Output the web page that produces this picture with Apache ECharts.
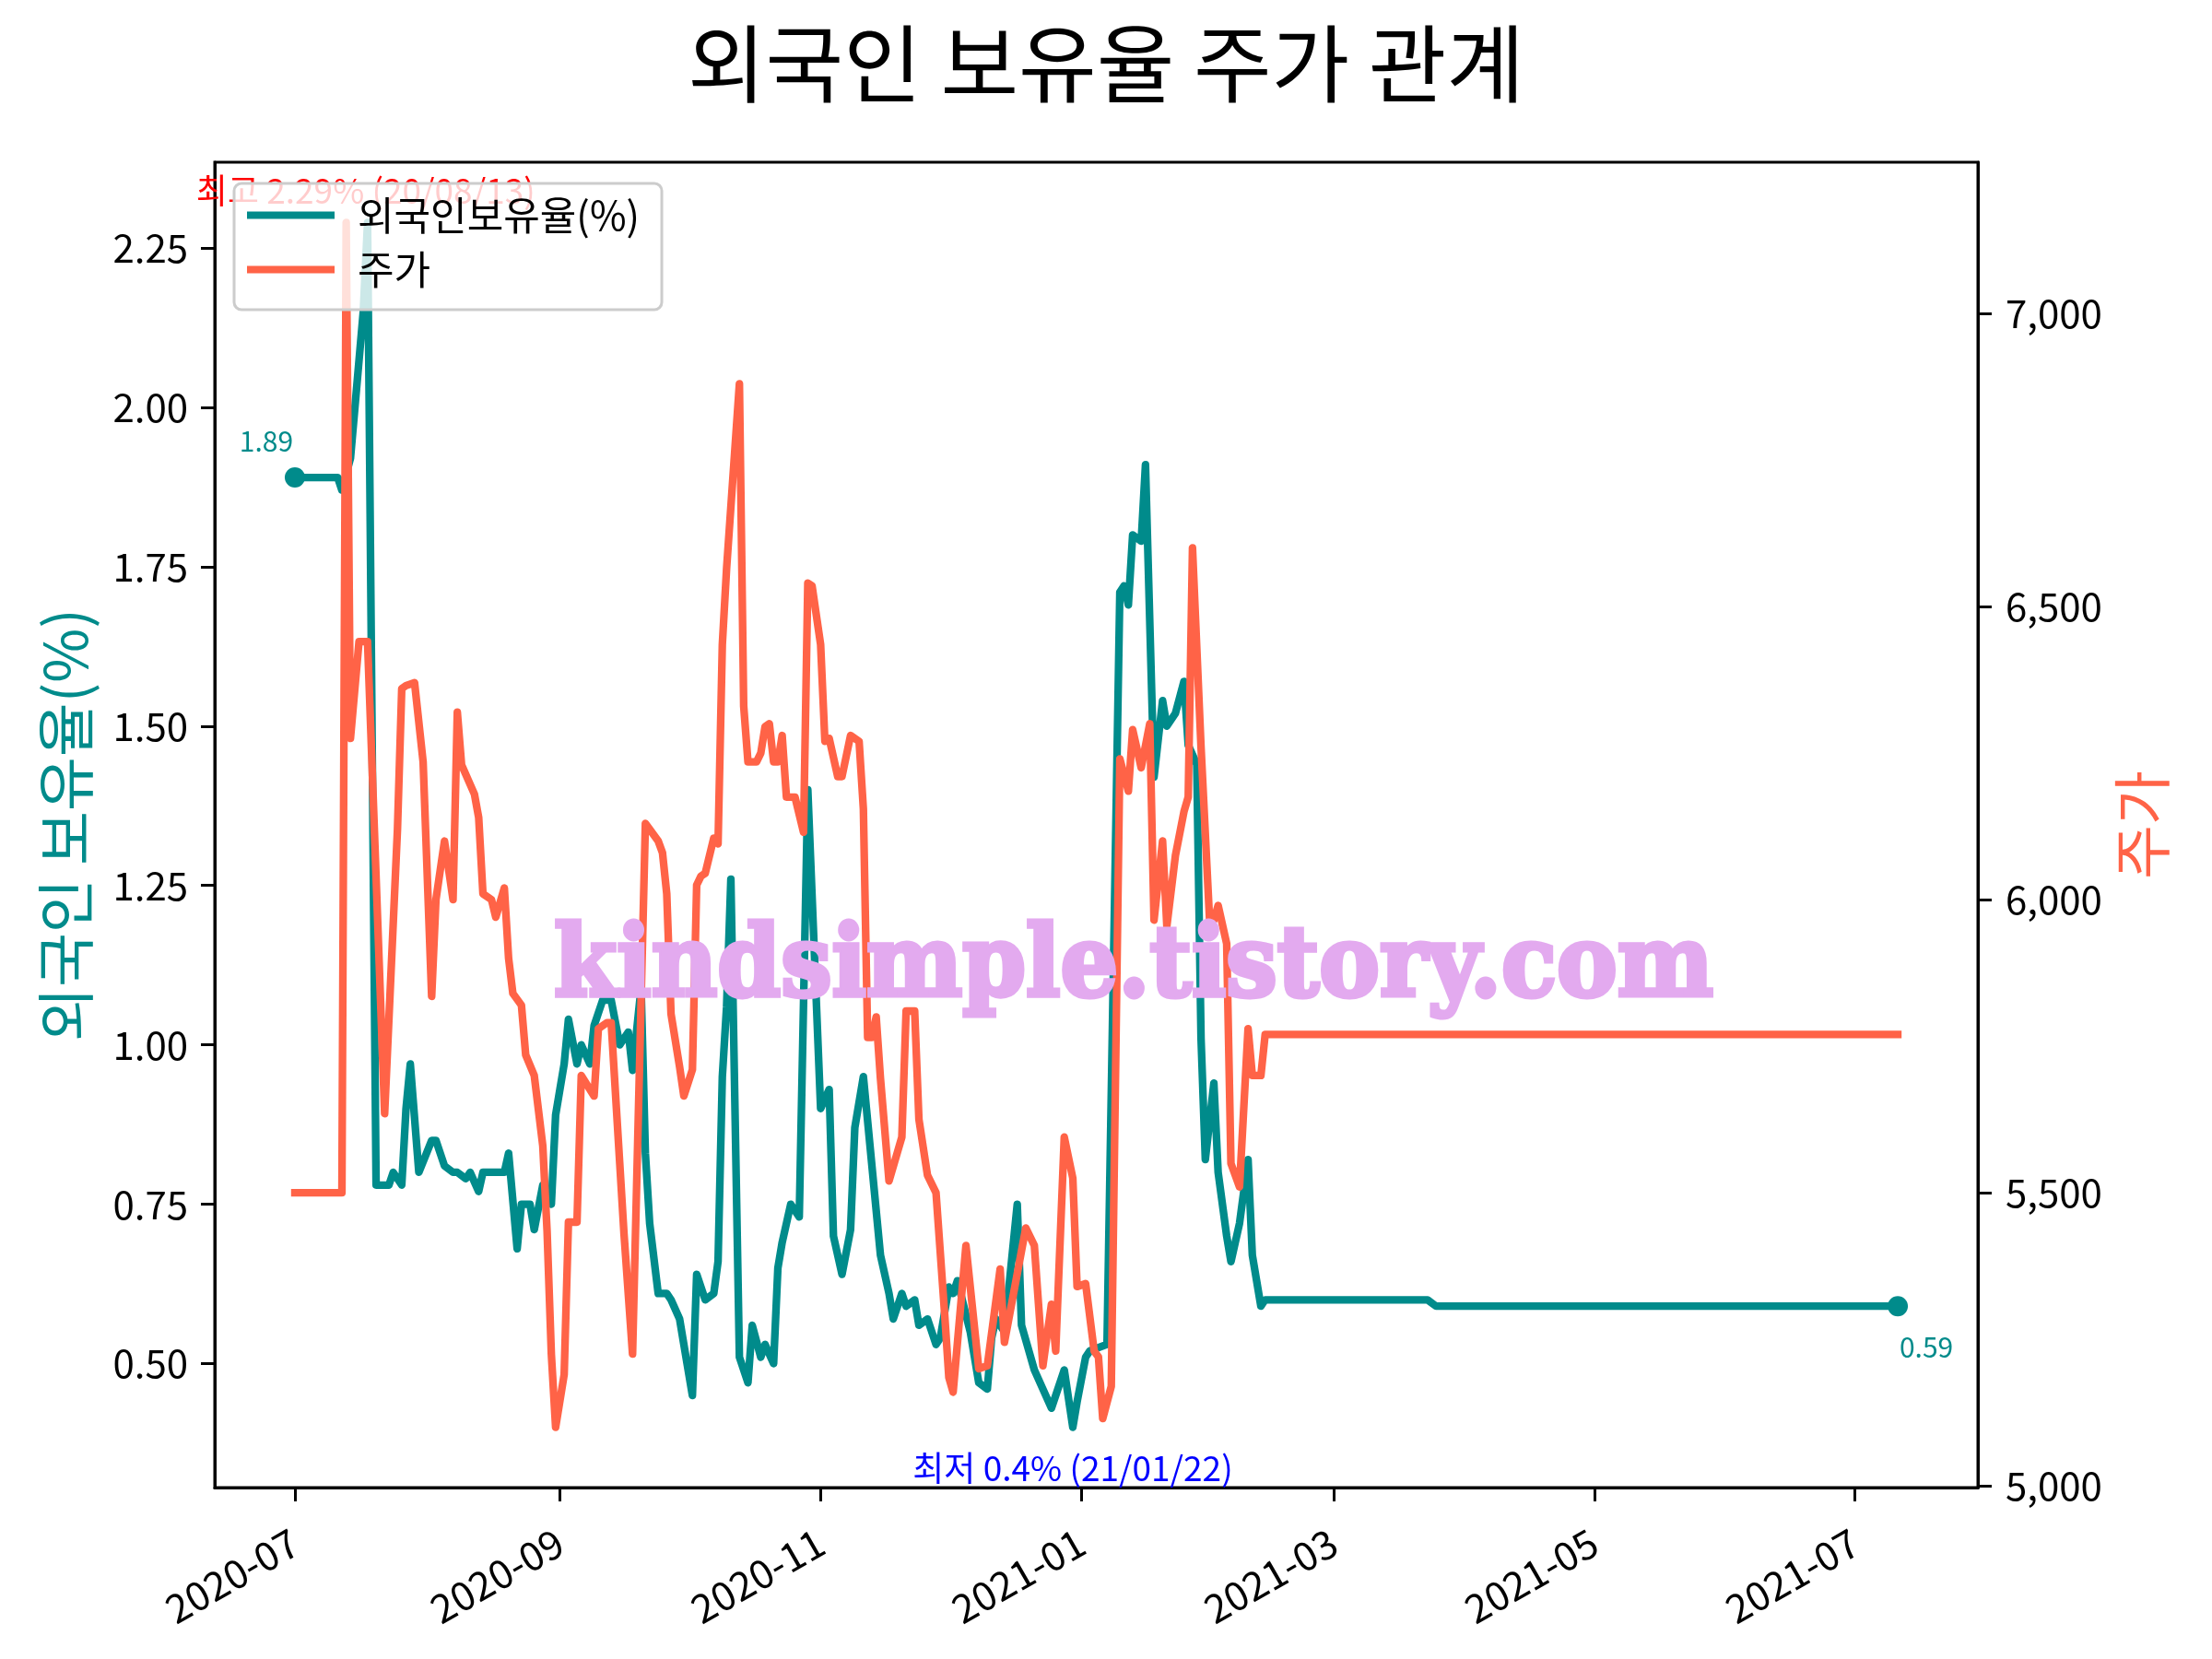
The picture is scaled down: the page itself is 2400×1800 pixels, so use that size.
<!DOCTYPE html>
<html><head><meta charset="utf-8">
<script src="https://cdn.jsdelivr.net/npm/echarts@6/dist/echarts.min.js"></script>
<style>html,body{margin:0;padding:0;background:#fff}#c{width:2400px;height:1800px}</style>
</head><body><div id="c"></div>
<script>
const titleText = '외국인 보유율 주가 관계';
const holdName = '외국인보유율(%)';
const priceName = '주가';
const holdAxisName = '외국인 보유율(%)';
const priceAxisName = '주가';
const maxNote = '최고 2.29% (20/08/13)';
const minNote = '최저 0.4% (21/01/22)';
const watermark = 'kindsimple.tistory.com';

const xTickLabels = ['2020-07','2020-09','2020-11','2021-01','2021-03','2021-05','2021-07'];
const holdTicks = [0.50,0.75,1.00,1.25,1.50,1.75,2.00,2.25];
const priceTicks = [5000,5500,6000,6500,7000];

const holdDates = ['2020-07-01','2020-07-11','2020-07-12','2020-07-14','2020-07-17','2020-07-18','2020-07-20','2020-07-23','2020-07-24','2020-07-26','2020-07-27','2020-07-28','2020-07-30',
'2020-08-02','2020-08-03','2020-08-05','2020-08-07','2020-08-08','2020-08-10','2020-08-11','2020-08-13','2020-08-14','2020-08-19','2020-08-20','2020-08-22','2020-08-23','2020-08-25','2020-08-26','2020-08-28','2020-08-30','2020-08-31',
'2020-09-01','2020-09-02','2020-09-03','2020-09-05','2020-09-06','2020-09-08','2020-09-09','2020-09-11','2020-09-13','2020-09-15','2020-09-17','2020-09-18','2020-09-20','2020-09-21','2020-09-22','2020-09-24','2020-09-26','2020-09-27','2020-09-29','2020-09-30',
'2020-10-02','2020-10-03','2020-10-05','2020-10-07','2020-10-08','2020-10-09','2020-10-10','2020-10-11','2020-10-13','2020-10-15','2020-10-16','2020-10-18','2020-10-19','2020-10-21','2020-10-22','2020-10-23','2020-10-25','2020-10-27','2020-10-29',
'2020-11-01','2020-11-03','2020-11-04','2020-11-06','2020-11-08','2020-11-09','2020-11-11','2020-11-15','2020-11-17','2020-11-18','2020-11-20','2020-11-21','2020-11-23','2020-11-24','2020-11-26','2020-11-28','2020-11-29',
'2020-12-01','2020-12-02','2020-12-03','2020-12-06','2020-12-08','2020-12-10','2020-12-11','2020-12-12','2020-12-14','2020-12-17','2020-12-18','2020-12-21','2020-12-25','2020-12-28','2020-12-30','2020-12-31',
'2021-01-02','2021-01-03','2021-01-07','2021-01-10','2021-01-11','2021-01-12','2021-01-13','2021-01-15','2021-01-16','2021-01-18','2021-01-20','2021-01-21','2021-01-23','2021-01-25','2021-01-26','2021-01-28','2021-01-29','2021-01-30',
'2021-02-01','2021-02-02','2021-02-04','2021-02-05','2021-02-07','2021-02-09','2021-02-10','2021-02-12','2021-02-13',
'2021-03-23','2021-03-25','2021-07-11'];
const holdValues = [1.89,1.89,1.87,1.92,2.15,2.29,0.78,0.78,0.80,0.78,0.90,0.97,0.80,
0.85,0.85,0.81,0.80,0.80,0.79,0.80,0.77,0.80,0.80,0.83,0.68,0.75,0.75,0.71,0.78,0.75,0.89,
0.93,0.97,1.04,0.97,1.00,0.97,1.03,1.07,1.07,1.00,1.02,0.96,1.09,0.83,0.72,0.61,0.61,0.60,0.57,0.53,
0.45,0.64,0.60,0.61,0.66,0.95,1.06,1.26,0.51,0.47,0.56,0.51,0.53,0.50,0.65,0.69,0.75,0.73,1.40,
0.90,0.93,0.70,0.64,0.71,0.87,0.95,0.67,0.61,0.57,0.61,0.59,0.60,0.56,0.57,0.53,0.54,
0.62,0.61,0.63,0.55,0.47,0.46,0.54,0.57,0.55,0.75,0.56,0.49,0.43,0.49,0.40,0.44,
0.51,0.52,0.53,1.71,1.72,1.69,1.80,1.79,1.91,1.42,1.54,1.50,1.52,1.57,1.47,1.44,1.01,0.82,
0.94,0.80,0.70,0.66,0.72,0.82,0.67,0.59,0.60,
0.60,0.59,0.59];

const priceDates = ['2020-07-01','2020-07-12','2020-07-13','2020-07-14','2020-07-16','2020-07-18','2020-07-22','2020-07-25','2020-07-26','2020-07-27','2020-07-29','2020-07-31',
'2020-08-02','2020-08-03','2020-08-05','2020-08-07','2020-08-08','2020-08-09','2020-08-12','2020-08-13','2020-08-14','2020-08-16','2020-08-17','2020-08-19','2020-08-20','2020-08-21','2020-08-23','2020-08-24','2020-08-26','2020-08-28','2020-08-29','2020-08-30','2020-08-31',
'2020-09-02','2020-09-03','2020-09-05','2020-09-06','2020-09-09','2020-09-10','2020-09-12','2020-09-13','2020-09-15','2020-09-16','2020-09-18','2020-09-21','2020-09-22','2020-09-24','2020-09-25','2020-09-26','2020-09-27','2020-09-29','2020-09-30',
'2020-10-02','2020-10-03','2020-10-04','2020-10-05','2020-10-07','2020-10-08','2020-10-09','2020-10-10','2020-10-13','2020-10-14','2020-10-15','2020-10-17','2020-10-18','2020-10-19','2020-10-20','2020-10-21','2020-10-22','2020-10-23','2020-10-24','2020-10-26','2020-10-28','2020-10-29','2020-10-30',
'2020-11-01','2020-11-02','2020-11-03','2020-11-05','2020-11-06','2020-11-08','2020-11-10','2020-11-11','2020-11-12','2020-11-13','2020-11-14','2020-11-15','2020-11-17','2020-11-19','2020-11-20','2020-11-21','2020-11-23','2020-11-24','2020-11-26','2020-11-28','2020-11-30',
'2020-12-01','2020-12-02','2020-12-05','2020-12-08','2020-12-10','2020-12-13','2020-12-14','2020-12-19','2020-12-21','2020-12-23','2020-12-25','2020-12-26','2020-12-28','2020-12-30','2020-12-31',
'2021-01-02','2021-01-04','2021-01-05','2021-01-06','2021-01-08','2021-01-10','2021-01-12','2021-01-13','2021-01-15','2021-01-17','2021-01-18','2021-01-20','2021-01-21','2021-01-23','2021-01-25','2021-01-26','2021-01-27','2021-01-29','2021-01-31',
'2021-02-01','2021-02-02','2021-02-04','2021-02-05','2021-02-07','2021-02-09','2021-02-10','2021-02-12','2021-02-13',
'2021-07-11'];
const priceValues = [5500,5500,7155,6275,6440,6440,5635,6120,6360,6365,6370,6235,
5835,6000,6100,6000,6320,6230,6180,6140,6010,6000,5970,6020,5900,5840,5820,5735,5700,5580,5435,5225,5100,
5190,5450,5450,5700,5665,5780,5790,5790,5550,5430,5225,6130,6120,6100,6080,6010,5805,5715,5665,
5710,6025,6040,6045,6105,6095,6435,6565,6880,6330,6235,6235,6250,6295,6300,6235,6235,6280,6175,6175,6115,6540,6535,
6435,6270,6275,6210,6210,6280,6270,6155,5765,5765,5800,5695,5520,5570,5595,5810,5810,5625,5530,5500,5295,
5185,5160,5410,5200,5205,5370,5245,5440,5410,5205,5310,5230,5595,5525,5340,
5345,5230,5220,5115,5170,6240,6185,6290,6225,6300,5965,6100,5955,6075,6150,6175,6600,6260,5965,
5965,5990,5925,5550,5510,5780,5700,5700,5770,
5770];

const TEAL = '#008b8b', TOMATO = '#ff6347';
const FONT = "'Noto Sans CJK KR', 'Noto Sans', sans-serif";

function parseDay(s) { const p = s.split('-').map(Number); return Date.UTC(p[0], p[1] - 1, p[2] || 1); }
function padRange(arr) { const lo = Math.min(...arr), hi = Math.max(...arr), m = (hi - lo) * 0.05; return [lo - m, hi + m]; }

const xTickValues = xTickLabels.map(parseDay);
const tAll = holdDates.concat(priceDates).map(parseDay);
const [xMin, xMax] = padRange(tAll);
const [hMin, hMax] = padRange(holdValues);
const [pMin, pMax] = padRange(priceValues);

const holdData = holdDates.map((d, i) => [parseDay(d), holdValues[i]]);
const priceData = priceDates.map((d, i) => [parseDay(d), priceValues[i]]);
const iMax = holdValues.indexOf(Math.max(...holdValues));
const iMin = holdValues.indexOf(Math.min(...holdValues));
const iLast = holdValues.length - 1;

const cv = document.createElement('canvas').getContext('2d');
const WM_FONT = 'bold 106px "DejaVu Serif"';
cv.font = WM_FONT;
const wmW = cv.measureText(watermark).width;
const wmScale = wmW > 0 ? 1258 / wmW : 1;

const axisLineStyle = { color: '#000', width: 3 };
const chart = echarts.init(document.getElementById('c'), null, { renderer: 'canvas' });
chart.setOption({
  animation: false,
  backgroundColor: '#fff',
  title: {
    text: titleText, left: 'center', top: 16,
    textStyle: { fontSize: 92, fontWeight: 'normal', color: '#000', fontFamily: FONT, lineHeight: 96 }
  },
  grid: { left: 233, right: 254, top: 176, bottom: 186, show: true, borderColor: '#000', borderWidth: 3, backgroundColor: 'transparent' },
  legend: {
    data: [holdName, priceName], left: 254, top: 199, orient: 'vertical',
    icon: 'rect', itemWidth: 95, itemHeight: 8, itemGap: 16,
    padding: [13, 24, 22, 14],
    backgroundColor: 'rgba(255,255,255,0.8)', borderColor: '#cccccc', borderWidth: 3, borderRadius: 8,
    z: 10, selectedMode: false,
    textStyle: { fontSize: 43, color: '#000', fontFamily: FONT, lineHeight: 42, padding: [0, 0, 0, 20] }
  },
  xAxis: {
    type: 'value', min: xMin, max: xMax, scale: true,
    axisLine: { show: true, lineStyle: axisLineStyle },
    axisTick: { show: true, length: 15, lineStyle: axisLineStyle, customValues: xTickValues },
    axisLabel: {
      customValues: xTickValues, rotate: 30, margin: 56, fontSize: 43, color: '#000', fontFamily: FONT,
      formatter: v => { const i = xTickValues.indexOf(v); return i >= 0 ? xTickLabels[i] : ''; }
    },
    splitLine: { show: false }
  },
  yAxis: [{
    type: 'value', position: 'left', min: hMin, max: hMax,
    name: holdAxisName, nameLocation: 'middle', nameRotate: 90, nameGap: 130,
    nameTextStyle: { fontSize: 64, color: TEAL, fontFamily: FONT },
    axisLine: { show: true, lineStyle: axisLineStyle },
    axisTick: { show: true, length: 15, lineStyle: axisLineStyle, customValues: holdTicks },
    axisLabel: { customValues: holdTicks, formatter: v => Number(v).toFixed(2), margin: 29, fontSize: 42, color: '#000', fontFamily: FONT },
    splitLine: { show: false }
  }, {
    type: 'value', position: 'right', min: pMin, max: pMax,
    name: priceAxisName, nameLocation: 'middle', nameRotate: 90, nameGap: 146,
    nameTextStyle: { fontSize: 64, color: TOMATO, fontFamily: FONT },
    axisLine: { show: true, lineStyle: axisLineStyle },
    axisTick: { show: true, length: 15, lineStyle: axisLineStyle, customValues: priceTicks },
    axisLabel: { customValues: priceTicks, formatter: v => Number(v).toLocaleString('en-US'), margin: 30, fontSize: 42, color: '#000', fontFamily: FONT },
    splitLine: { show: false }
  }],
  series: [{
    type: 'line', name: holdName, yAxisIndex: 0, data: holdData, showSymbol: false,
    lineStyle: { color: TEAL, width: 8.3, cap: 'square', join: 'round' }, itemStyle: { color: TEAL },
    markPoint: {
      silent: true,
      data: [
        { coord: holdData[0], value: holdValues[0], symbol: 'circle', symbolSize: 22, itemStyle: { color: TEAL, borderWidth: 0 },
          label: { show: true, position: 'inside', offset: [-31, -39], formatter: p => Number(p.value).toFixed(2), color: TEAL, fontSize: 30, fontFamily: FONT } },
        { coord: holdData[iLast], value: holdValues[iLast], symbol: 'circle', symbolSize: 22, itemStyle: { color: TEAL, borderWidth: 0 },
          label: { show: true, position: 'inside', offset: [31, 44], formatter: p => Number(p.value).toFixed(2), color: TEAL, fontSize: 30, fontFamily: FONT } },
        { coord: holdData[iMax], value: holdValues[iMax], symbol: 'circle', symbolSize: 1, itemStyle: { color: 'rgba(0,0,0,0)', borderWidth: 0 },
          label: { show: true, position: 'inside', offset: [-2, -34], formatter: maxNote, color: '#ff0000', fontSize: 37, fontFamily: FONT } },
        { coord: holdData[iMin], value: holdValues[iMin], symbol: 'circle', symbolSize: 1, itemStyle: { color: 'rgba(0,0,0,0)', borderWidth: 0 },
          label: { show: true, position: 'inside', offset: [0, 44], formatter: minNote, color: '#0000ff', fontSize: 37, fontFamily: FONT } }
      ]
    }
  }, {
    type: 'line', name: priceName, yAxisIndex: 1, data: priceData, showSymbol: false,
    lineStyle: { color: TOMATO, width: 8.3, cap: 'square', join: 'round' }, itemStyle: { color: TOMATO }
  }],
  graphic: [{
    type: 'text', x: 1230, y: 1052, z: 100, scaleX: wmScale, silent: true,
    style: { text: watermark, font: WM_FONT, fill: '#e3aaef', stroke: '#e3aaef', lineWidth: 5, align: 'center', verticalAlign: 'middle' }
  }]
});
</script></body></html>
